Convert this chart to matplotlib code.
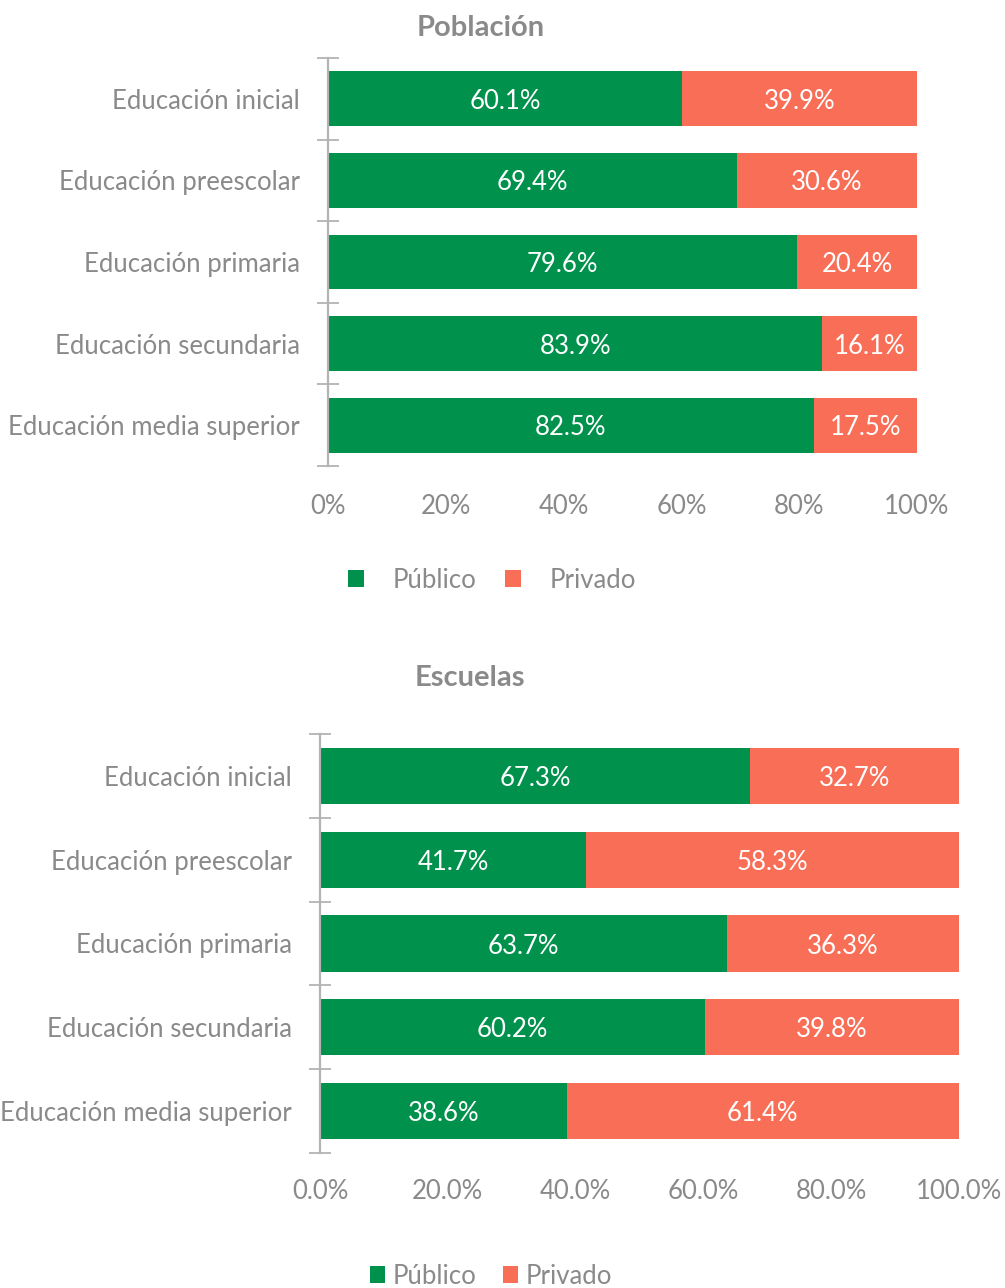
import matplotlib
matplotlib.use("Agg")
import matplotlib.pyplot as plt
from matplotlib.patches import Patch
import numpy as np

plt.rcParams['font.family'] = ['Lato', 'DejaVu Sans']

categories = ["Educación inicial", "Educación preescolar", "Educación primaria",
              "Educación secundaria", "Educación media superior"]
poblacion_publico = [60.1, 69.4, 79.6, 83.9, 82.5]
poblacion_privado = [39.9, 30.6, 20.4, 16.1, 17.5]
escuelas_publico = [67.3, 41.7, 63.7, 60.2, 38.6]
escuelas_privado = [32.7, 58.3, 36.3, 39.8, 61.4]
series_names = ["Público", "Privado"]
poblacion_ticks = ["0%", "20%", "40%", "60%", "80%", "100%"]
escuelas_ticks = ["0.0%", "20.0%", "40.0%", "60.0%", "80.0%", "100.0%"]

GREEN = "#00914c"
RED = "#f96e57"
TXT = "#8a8a8a"
SPINE = "#b3b3b3"
FS = 18.5

W, H = 1005, 1288
fig = plt.figure(figsize=(W / 100, H / 100), dpi=100)


def px_axes(x0, x1, ytop, ybot):
    return fig.add_axes([x0 / W, 1 - ybot / H, (x1 - x0) / W, (ybot - ytop) / H])


def draw_panel(ax, pub, priv, ticklabels, ylab_pad, xlab_pad):
    n = len(categories)
    y = np.arange(n)
    ax.barh(y, pub, height=0.67, color=GREEN, edgecolor="none")
    ax.barh(y, priv, left=pub, height=0.67, color=RED, edgecolor="none")
    for yi, a, b in zip(y, pub, priv):
        ax.text(a / 2, yi, f"{a:.1f}%", ha="center", va="center_baseline",
                color="white", fontsize=FS)
        ax.text(a + b / 2, yi, f"{b:.1f}%", ha="center", va="center_baseline",
                color="white", fontsize=FS)
    ax.set_xlim(0, 100)
    ax.set_ylim(n - 0.5, -0.5)
    ax.set_yticks(y)
    ax.set_yticklabels(categories, fontsize=FS, color=TXT, va="center_baseline")
    ax.set_yticks(np.arange(-0.5, n, 1.0), minor=True)
    ax.tick_params(axis="y", which="major", length=0, pad=ylab_pad)
    ax.tick_params(axis="y", which="minor", length=16, direction="inout", color=SPINE, width=1.3)
    ax.set_xticks(np.arange(0, 101, 20))
    ax.set_xticklabels(ticklabels, fontsize=FS, color=TXT)
    ax.tick_params(axis="x", length=0, pad=xlab_pad)
    for s in ("top", "right", "bottom"):
        ax.spines[s].set_visible(False)
    ax.spines["left"].set_color(SPINE)
    ax.spines["left"].set_linewidth(1.6)
    ax.spines["left"].set_zorder(3)


ax1 = px_axes(328, 917, 58, 466)
draw_panel(ax1, poblacion_publico, poblacion_privado, poblacion_ticks, 20, 20)
fig.text(481 / W, 1 - 28 / H, "Población", ha="center", va="center",
         fontsize=21, fontweight="bold", color=TXT)

ax2 = px_axes(320, 959, 734, 1153)
draw_panel(ax2, escuelas_publico, escuelas_privado, escuelas_ticks, 20, 19)
fig.text(470 / W, 1 - 678 / H, "Escuelas", ha="center", va="center",
         fontsize=21, fontweight="bold", color=TXT)

handles = [Patch(facecolor=GREEN, edgecolor="none"), Patch(facecolor=RED, edgecolor="none")]
fig.legend(handles, series_names, loc="center", ncol=2,
           bbox_to_anchor=(492 / W, 1 - 580 / H), frameon=False,
           fontsize=FS, handlelength=0.6, handleheight=0.6,
           handletextpad=1.1, columnspacing=1.15, labelcolor=TXT)
fig.legend(handles, series_names, loc="center", ncol=2,
           bbox_to_anchor=(491 / W, 1 - 1276 / H), frameon=False,
           fontsize=FS, handlelength=0.6, handleheight=0.6,
           handletextpad=0.3, columnspacing=1.0, labelcolor=TXT)

fig.savefig("out.png", dpi=100, facecolor="white")
